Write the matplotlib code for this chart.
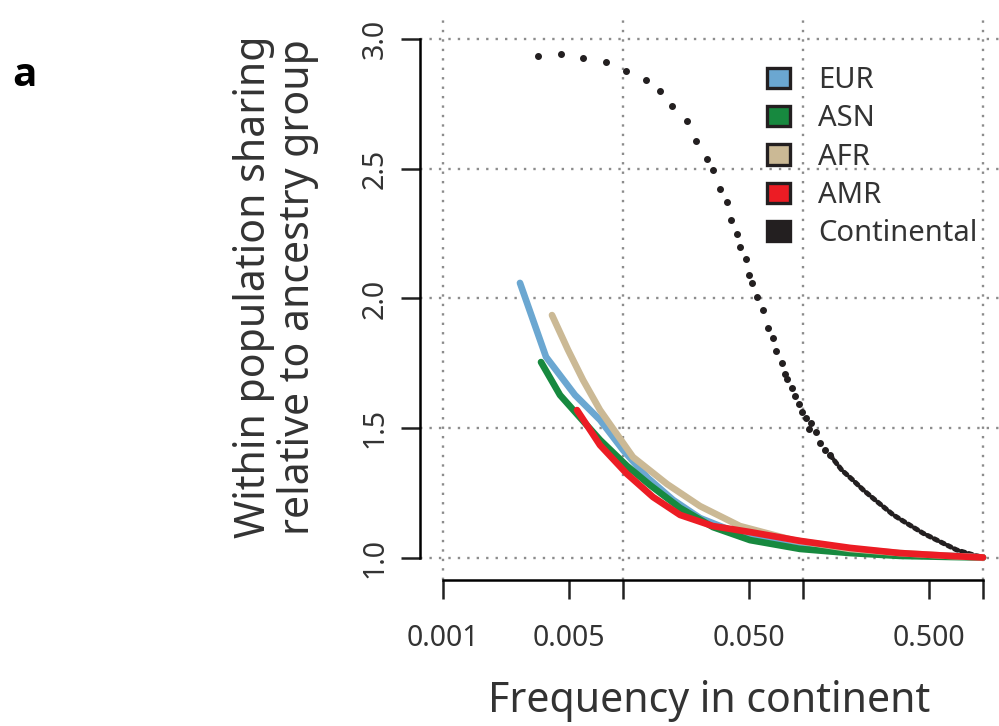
import numpy as np
import matplotlib
matplotlib.use("Agg")
import matplotlib.pyplot as plt
from matplotlib.patches import Patch

plt.rcParams['font.family'] = ['Noto Sans', 'DejaVu Sans']

# ---- data ----
eur_f = [0.002677, 0.003735, 0.005412, 0.007452, 0.01, 0.01377, 0.01896, 0.02678,
         0.03929, 0.05771, 0.09623, 0.1825, 0.3459, 0.6557, 1.0]
eur_v = [2.060, 1.775, 1.628, 1.532, 1.416, 1.308, 1.224, 1.154,
         1.108, 1.073, 1.046, 1.027, 1.015, 1.008, 1.002]

asn_f = [0.003503, 0.004467, 0.005412, 0.007452, 0.01052, 0.01413, 0.02074, 0.03162,
         0.05076, 0.09623, 0.1825, 0.3459, 0.6557, 1.0]
asn_v = [1.755, 1.628, 1.563, 1.455, 1.355, 1.281, 1.193, 1.119,
         1.069, 1.035, 1.019, 1.008, 1.004, 1.002]

afr_f = [0.004032, 0.004948, 0.005995, 0.007452, 0.01136, 0.01756, 0.02678, 0.04467,
         0.08799, 0.1825, 0.3459, 0.6557, 1.0]
afr_v = [1.936, 1.802, 1.686, 1.570, 1.389, 1.285, 1.200, 1.123,
         1.069, 1.035, 1.019, 1.008, 1.002]

amr_f = [0.005552, 0.007452, 0.01052, 0.01468, 0.02074, 0.03162, 0.05076, 0.09623,
         0.1825, 0.3459, 0.6557, 1.0]
amr_v = [1.570, 1.435, 1.324, 1.235, 1.166, 1.123, 1.100, 1.066,
         1.039, 1.019, 1.008, 1.002]

# continental: sparse points (drawn as dots)
cont_f = [0.003384, 0.004508, 0.006018, 0.008015, 0.01035, 0.01337, 0.01599, 0.01865,
          0.02259, 0.02554, 0.02929, 0.03175, 0.03459, 0.03768, 0.03981, 0.04315,
          0.04467, 0.04805, 0.05031, 0.05208, 0.05572, 0.05957, 0.06414, 0.06786,
          0.07051, 0.07642, 0.07943, 0.08180, 0.08687, 0.09061, 0.09465, 0.09872,
          0.1035, 0.1076, 0.1108, 0.1177, 0.1243, 0.1325, 0.1413]
cont_v = [2.936, 2.942, 2.928, 2.910, 2.878, 2.843, 2.800, 2.742,
          2.683, 2.607, 2.539, 2.495, 2.422, 2.372, 2.304, 2.250,
          2.200, 2.151, 2.092, 2.060, 2.006, 1.955, 1.886, 1.848,
          1.798, 1.750, 1.709, 1.691, 1.656, 1.623, 1.595, 1.561,
          1.541, 1.496, 1.520, 1.484, 1.442, 1.417, 1.397]
# continental: dense tail (dots packed along the curve)
cont_tail_f = [0.1413, 0.1641, 0.1888, 0.2163, 0.2512, 0.3175, 0.3768, 0.4660,
               0.5771, 0.7143, 0.8834, 1.0]
cont_tail_v = [1.397, 1.339, 1.301, 1.262, 1.224, 1.166, 1.134, 1.095,
               1.063, 1.031, 1.012, 1.002]

series = [("EUR", eur_f, eur_v, "#6ba7d1"),
          ("ASN", asn_f, asn_v, "#17893f"),
          ("AFR", afr_f, afr_v, "#cbb995"),
          ("AMR", amr_f, amr_v, "#ec1c24")]

x_ticks = [0.001, 0.005, 0.01, 0.05, 0.1, 0.5, 1.0]
x_ticklabels = ["0.001", "0.005", "", "0.050", "", "0.500", ""]
x_grid = [0.001, 0.01, 0.1, 1.0]
y_ticks = [1.0, 1.5, 2.0, 2.5, 3.0]

fig = plt.figure(figsize=(9.99, 7.26), dpi=100)
ax = fig.add_axes([420 / 999, 146 / 726, 579 / 999, 563 / 726])

ax.set_xscale("log")
ax.set_xlim(10 ** (-3 - 23 / 180), 10 ** (16 / 180))
ax.set_ylim(1 - 22 / 259.5, 3 + 22 / 259.5)

# dotted grid
for yv in y_ticks:
    ax.axhline(yv, color="#8c8c8c", lw=1.7, ls=(0, (1, 3.0)), zorder=0)
for xv in x_grid:
    ax.axvline(xv, color="#8c8c8c", lw=1.7, ls=(0, (1, 3.0)), zorder=0)

for name, f, v, c in series:
    ax.plot(f, v, color=c, lw=4.8, solid_capstyle="round", solid_joinstyle="round", zorder=3)

ax.plot(cont_f, cont_v, ls="none", marker="o", ms=4.0, color="#231f20", zorder=4)
ax.plot(cont_tail_f, cont_tail_v, color="#231f20", lw=3.6, ls=(0, (0.7, 0.8)),
        dash_capstyle="round", zorder=2)

# axes styling (R-like)
for s in ["top", "right"]:
    ax.spines[s].set_visible(False)
ax.spines["left"].set_bounds(1.0, 3.0)
ax.spines["bottom"].set_bounds(0.001, 1.0)
ax.spines["left"].set_linewidth(1.8)
ax.spines["bottom"].set_linewidth(1.8)

ax.xaxis.set_minor_locator(matplotlib.ticker.NullLocator())
ax.set_xticks(x_ticks)
ax.set_xticklabels(x_ticklabels)
ax.set_yticks(y_ticks)
ax.set_yticklabels([f"{t:.1f}" for t in y_ticks], rotation=90, va="center")
ax.tick_params(axis="both", length=14, width=1.8, labelsize=20.5, color="#222222",
               labelcolor="#333333")
ax.tick_params(axis="x", pad=18)
ax.tick_params(axis="y", pad=8)

ax.set_xlabel("Frequency in continent", fontsize=29.5, color="#333333", labelpad=19)
ax.set_ylabel("Within population sharing\nrelative to ancestry group", fontsize=29.5,
              color="#333333", labelpad=30, linespacing=1.05)
ax.yaxis.label.set_y(0.52)

handles = [Patch(facecolor=c, edgecolor="#231f20", lw=2.4, label=n) for n, _, _, c in series]
handles.append(Patch(facecolor="#231f20", edgecolor="#231f20", lw=2.4, label="Continental"))
leg = ax.legend(handles=handles, loc="upper left", bbox_to_anchor=(0.599, 0.913),
                frameon=False, fontsize=21, handlelength=0.8, handleheight=0.7,
                labelspacing=0.32, handletextpad=0.95, borderaxespad=0, borderpad=0)
for t in leg.get_texts():
    t.set_color("#333333")

fig.text(12 / 999, 1 - 76 / 726, "a", fontsize=29, fontweight="bold", va="center",
         family="Open Sans")

fig.savefig("out.png", dpi=100)
